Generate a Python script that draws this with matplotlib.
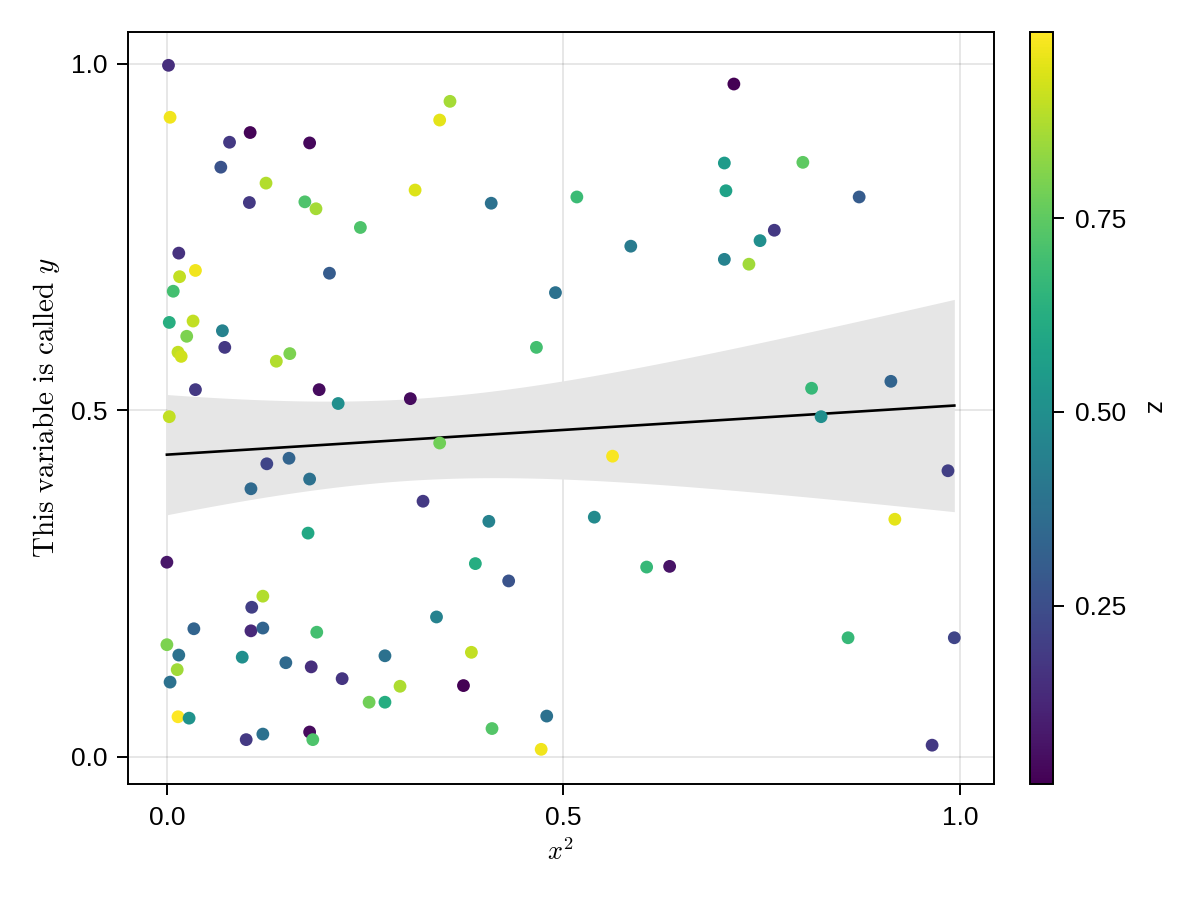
import numpy as np
import matplotlib
matplotlib.use("Agg")
import matplotlib.pyplot as plt

plt.rcParams['font.family'] = ['Liberation Sans', 'DejaVu Sans']
plt.rcParams['mathtext.fontset'] = 'cm'

# points: x (already squared), y, colour value z
x = [0.002, 0.004, 0.079, 0.105, 0.180, 0.068, 0.125, 0.104, 0.174, 0.188,
     0.244, 0.313, 0.015, 0.036, 0.016, 0.008, 0.205, 0.003, 0.033, 0.070,
     0.025, 0.014, 0.018, 0.073, 0.138, 0.155, 0.036, 0.192, 0.216, 0.307,
     0.003, 0.126, 0.154, 0.180, 0.106, 0.178, 0.323, 0.000, 0.121, 0.107,
     0.034, 0.106, 0.121, 0.189, 0.000, 0.015, 0.095, 0.150, 0.182, 0.221,
     0.275, 0.294, 0.013, 0.004, 0.255, 0.275, 0.014, 0.028, 0.100, 0.121,
     0.180, 0.184,
     0.357, 0.344, 0.409, 0.517, 0.585, 0.490, 0.466,
     0.344, 0.562, 0.406, 0.539, 0.389, 0.431, 0.605, 0.634, 0.340, 0.384,
     0.374, 0.479, 0.410, 0.472,
     0.715, 0.703, 0.802, 0.705, 0.873, 0.766, 0.748, 0.703, 0.734, 0.813,
     0.913, 0.825, 0.985, 0.918, 0.859, 0.993, 0.965]
y = [0.998, 0.923, 0.887, 0.901, 0.886, 0.851, 0.828, 0.800, 0.801, 0.791,
     0.764, 0.818, 0.727, 0.702, 0.693, 0.672, 0.698, 0.627, 0.629, 0.615,
     0.607, 0.584, 0.578, 0.591, 0.571, 0.582, 0.530, 0.530, 0.510, 0.517,
     0.491, 0.423, 0.431, 0.401, 0.387, 0.323, 0.369, 0.281, 0.232, 0.216,
     0.185, 0.182, 0.186, 0.180, 0.162, 0.147, 0.144, 0.136, 0.130, 0.113,
     0.146, 0.102, 0.126, 0.108, 0.079, 0.079, 0.058, 0.056, 0.025, 0.033,
     0.036, 0.025,
     0.946, 0.919, 0.799, 0.808, 0.737, 0.670, 0.591,
     0.453, 0.434, 0.340, 0.346, 0.279, 0.254, 0.274, 0.275, 0.202, 0.151,
     0.103, 0.059, 0.041, 0.011,
     0.971, 0.857, 0.858, 0.817, 0.808, 0.760, 0.745, 0.718, 0.711, 0.532,
     0.542, 0.491, 0.413, 0.343, 0.172, 0.172, 0.017]
z = [0.15, 0.97, 0.18, 0.03, 0.04, 0.27, 0.88, 0.18, 0.72, 0.86,
     0.72, 0.94, 0.16, 0.97, 0.90, 0.70, 0.30, 0.63, 0.90, 0.45,
     0.80, 0.90, 0.92, 0.18, 0.88, 0.80, 0.18, 0.05, 0.50, 0.05,
     0.90, 0.22, 0.33, 0.38, 0.35, 0.60, 0.18, 0.08, 0.88, 0.20,
     0.33, 0.13, 0.33, 0.70, 0.80, 0.38, 0.50, 0.35, 0.15, 0.17,
     0.38, 0.87, 0.85, 0.38, 0.78, 0.62, 0.99, 0.52, 0.18, 0.38,
     0.05, 0.72,
     0.86, 0.95, 0.38, 0.68, 0.42, 0.38, 0.70,
     0.78, 0.98, 0.45, 0.48, 0.62, 0.27, 0.67, 0.07, 0.45, 0.90,
     0.02, 0.38, 0.73, 0.97,
     0.02, 0.55, 0.75, 0.58, 0.30, 0.18, 0.50, 0.45, 0.85, 0.67,
     0.33, 0.50, 0.20, 0.95, 0.67, 0.22, 0.18]

xa, ya, za = np.array(x), np.array(y), np.array(z)

# linear fit with 95% confidence band
n = len(xa)
slope, intercept = np.polyfit(xa, ya, 1)
xs = np.linspace(xa.min(), xa.max(), 200)
fit = intercept + slope * xs
resid = ya - (intercept + slope * xa)
s = np.sqrt(np.sum(resid ** 2) / (n - 2))
sxx = np.sum((xa - xa.mean()) ** 2)
se = s * np.sqrt(1 / n + (xs - xa.mean()) ** 2 / sxx)
t = 1.984

fig = plt.figure(figsize=(12, 9), dpi=100)
ax = fig.add_axes([0.1067, 0.1289, 0.7216, 0.8355])
cax = fig.add_axes([0.8583, 0.1289, 0.0192, 0.8355])

ax.grid(True, color='black', alpha=0.1, linewidth=1.3)
ax.set_axisbelow(True)
ax.fill_between(xs, fit - t * se, fit + t * se, color='#e6e6e6', linewidth=0, zorder=2)
ax.plot(xs, fit, color='black', linewidth=1.9, zorder=3)
sc = ax.scatter(xa, ya, c=za, cmap='viridis', s=85, edgecolors='none', zorder=4)

ax.set_xlim(-0.049, 1.043)
ax.set_ylim(-0.039, 1.046)
ax.set_xticks([0.0, 0.5, 1.0])
ax.set_yticks([0.0, 0.5, 1.0])
ax.set_xticklabels(['0.0', '0.5', '1.0'])
ax.set_yticklabels(['0.0', '0.5', '1.0'])
ax.tick_params(labelsize=19, length=8, width=1.4)
ax.tick_params(axis='y', pad=7)
ax.tick_params(axis='x', pad=8)
for sp in ax.spines.values():
    sp.set_linewidth(1.4)

ax.set_xlabel(r'$x^2$', fontsize=19, labelpad=6)
ax.set_ylabel(r'$\mathrm{This\ variable\ is\ called}\ y$', fontsize=21, labelpad=6)

cb = fig.colorbar(sc, cax=cax, ticks=[0.25, 0.50, 0.75])
cb.ax.set_yticklabels(['0.25', '0.50', '0.75'])
cb.ax.tick_params(labelsize=19, length=8, width=1.4, pad=8)
cb.outline.set_linewidth(1.4)
cb.set_label('z', fontsize=19, rotation=270, labelpad=28)

fig.savefig('out.png', dpi=100)
